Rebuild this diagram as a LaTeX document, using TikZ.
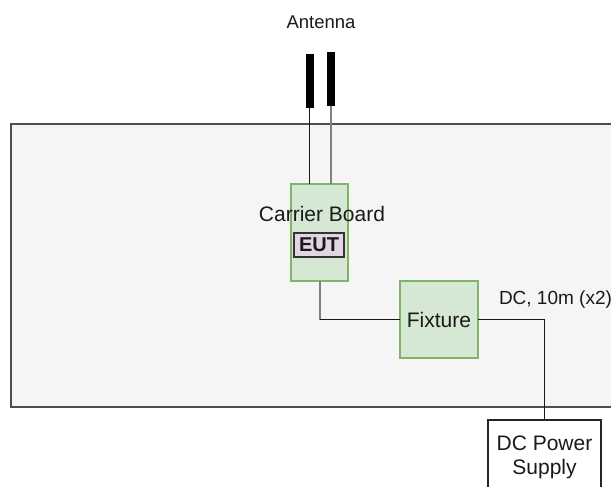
\documentclass[tikz,border=0pt]{standalone}
\usepackage{fontspec}
\setmainfont{Liberation Sans}
\definecolor{areafill}{HTML}{F5F5F5}
\definecolor{areadraw}{HTML}{4D4D4D}
\definecolor{gfill}{HTML}{D5E8D4}
\definecolor{gdraw}{HTML}{82B366}
\definecolor{pfill}{HTML}{E1D5E7}
\definecolor{pdraw}{HTML}{333333}
\definecolor{wiregray}{HTML}{808080}
\definecolor{txt}{HTML}{1A1A1A}
\begin{document}
\begin{tikzpicture}[x=1pt,y=-1pt,
  every node/.style={inner sep=0pt, outer sep=0pt, text=txt},
  bigfont/.style={font=\fontsize{21}{24}\selectfont},
  container/.style={draw=areadraw, fill=areafill, line width=1.5pt, anchor=north west},
  bar/.style={fill=black, draw=none, minimum width=8pt, minimum height=54pt},
  greenbox/.style={draw=gdraw, fill=gfill, line width=1.2pt},
  eutbox/.style={draw=pdraw, fill=pfill, line width=1.6pt, font=\fontsize{20}{24}\selectfont\bfseries},
  plainbox/.style={draw=black!85, fill=white, line width=1.2pt, align=center, bigfont},
  wire/.style={draw=black!90, line width=1.2pt},
  graywire/.style={draw=wiregray, line width=2pt}]
\clip (0,0) rectangle (611,487);
\useasboundingbox (0,0) rectangle (611,487);

% container area
\node (area) [container, minimum width=640pt, minimum height=283pt] at (11,124) {};

% antenna
\node (antlabel) [font=\fontsize{18.5}{22}\selectfont] at (321,22) {Antenna};
\node (antL) [bar] at (309.5,81) {};
\node (antR) [bar] at (331,79) {};

% carrier board
\node (cb) [greenbox, minimum width=57pt, minimum height=97pt] at (319.5,232.5) {};
\node (cblabel) [bigfont] at (322,214) {Carrier Board};
\node (eut) [eutbox, minimum width=50pt, minimum height=24pt] at (319,245) {EUT};

% fixture
\node (fx) [greenbox, bigfont, minimum width=78pt, minimum height=77pt] at (439,319.5) {Fixture};

% power supply
\node (ps) [plainbox, minimum width=113pt, minimum height=74pt] at (544.5,457) {DC Power\\Supply};
\node (dclabel) [font=\fontsize{19}{22}\selectfont, anchor=west] at (499,300) {DC, 10m (x2)};

% connectors
\draw[wire] (antL.south) -- (antL.south |- cb.north);
\draw[graywire] (antR.south) -- (antR.south |- cb.north);
\coordinate (bend) at (cb.south |- fx.west);
\draw[graywire] (cb.south) -- (bend);
\draw[wire] (bend) -- (fx.west);
\draw[wire] (fx.east) -| (ps.north);
\end{tikzpicture}
\end{document}
